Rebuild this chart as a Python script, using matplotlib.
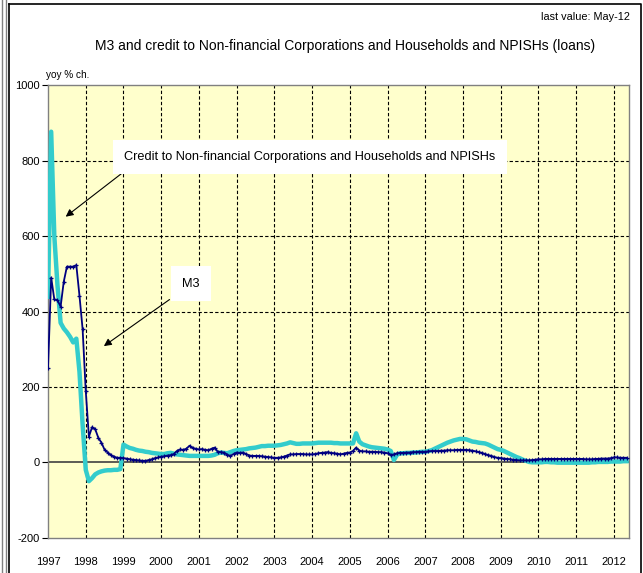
import numpy as np
import matplotlib
matplotlib.use("Agg")
import matplotlib.pyplot as plt
from matplotlib.lines import Line2D

plt.rcParams['font.family'] = ['Liberation Sans', 'DejaVu Sans']
plt.rcParams['axes.unicode_minus'] = False

# monthly data, Jan 1997 - May 2012 (yoy % ch.)
m3 = [251, 490, 432, 430, 413, 479, 519, 519, 519, 523, 442, 353,
      189, 68, 93, 88, 65, 52, 33, 26, 19, 15, 12, 12,
      11, 10, 8, 7, 6, 5, 4, 4, 6, 8, 11, 13,
      15, 16, 18, 19, 22, 30, 34, 33, 36, 44, 38, 36,
      34, 35, 33, 32, 36, 39, 28, 27, 26, 20, 17, 22,
      26, 25, 26, 22, 18, 17, 17, 17, 16, 15, 14, 13,
      12, 12, 13, 15, 18, 21, 21, 22, 22, 22, 21, 21,
      21, 22, 24, 25, 26, 27, 25, 24, 23, 21, 23, 25,
      26, 30, 39, 31, 29, 29, 28, 28, 28, 27, 27, 26,
      24, 19, 21, 24, 25, 25, 26, 26, 27, 27, 28, 28,
      28, 29, 30, 30, 30, 31, 31, 32, 32, 32, 33, 33,
      33, 33, 32, 31, 29, 27, 25, 22, 19, 17, 14, 12,
      11, 10, 9, 8, 7, 6, 5, 5, 5, 5, 6, 7,
      8, 8, 9, 9, 9, 9, 9, 9, 9, 9, 9, 9,
      9, 9, 9, 8, 8, 8, 9, 9, 10, 10, 10, 11,
      13, 13, 12, 12, 12]

credit = [439, 877, 600, 470, 370, 355, 345, 333, 318, 328, 240, 100,
          -20, -50, -42, -32, -27, -24, -22, -21, -21, -20, -20, -18,
          47, 42, 38, 36, 33, 31, 30, 28, 27, 25, 24, 23,
          22, 22, 24, 25, 23, 21, 20, 19, 18, 17, 17, 17,
          17, 17, 17, 17, 18, 20, 24, 26, 25, 24, 27, 30,
          32, 33, 34, 35, 37, 38, 39, 41, 43, 43, 44, 44,
          44, 45, 46, 48, 50, 53, 51, 49, 49, 50, 50, 50,
          50, 51, 52, 52, 52, 52, 52, 51, 51, 50, 50, 50,
          50, 50, 77, 55, 48, 45, 42, 40, 39, 38, 37, 36,
          34, 30, 6, 20, 24, 24, 25, 25, 26, 26, 27, 28,
          28, 30, 32, 36, 40, 44, 48, 52, 55, 58, 60, 62,
          62, 61, 58, 55, 54, 52, 51, 50, 47, 43, 39, 35,
          33, 30, 26, 22, 18, 14, 11, 7, 4, 1, 0, 0,
          0, 0, 1, 1, 0, 0, -1, -1, -1, -1, -1, -1,
          -1, -1, -1, -1, -1, 0, 0, 1, 1, 1, 1, 2,
          2, 2, 2, 3, 3]

years = list(range(1997, 2013))
t = 1997 + np.arange(len(m3)) / 12.0

fig = plt.figure(figsize=(6.43, 5.73), dpi=100)
ax = fig.add_axes([0.0747, 0.0616, 0.9036, 0.7895])
ax.set_facecolor('#FFFFCC')

ax.plot(t, credit, color='#33CCCC', lw=3.2, zorder=3)
ax.plot(t, m3, color='#000080', lw=1.3, marker='+', ms=3, mew=0.9, zorder=4)

ax.set_xlim(1997, 2012.4)
ax.set_ylim(-200, 1000)
ax.set_yticks(range(-200, 1001, 200))
ax.set_xticks(years)
ax.set_xticklabels([str(y) for y in years], fontsize=8)
ax.tick_params(axis='x', length=0, pad=14)
ax.tick_params(axis='y', length=4, direction='out', labelsize=8, pad=2)

for y in years[1:]:
    ax.axvline(y, color='black', lw=0.8, ls=(0, (3, 2)), zorder=1)
for v in [200, 400, 600, 800]:
    ax.axhline(v, color='black', lw=0.8, ls=(0, (3, 2)), zorder=1)
ax.axhline(0, color='#404040', lw=1.2, zorder=2)

for s in ax.spines.values():
    s.set_color('#808080')
    s.set_linewidth(1)

# annotations
ax.text(2003.94, 810, 'Credit to Non-financial Corporations and Households and NPISHs',
        ha='center', va='center', fontsize=9.2, zorder=6,
        bbox=dict(facecolor='white', edgecolor='none', pad=8))
ax.annotate('', xy=(1997.41, 647), xytext=(1999.13, 780),
            arrowprops=dict(arrowstyle='-|>', color='black', lw=0.8, mutation_scale=11), zorder=5)
ax.text(2000.79, 474, 'M3', ha='center', va='center', fontsize=9.2, zorder=6,
        bbox=dict(facecolor='white', edgecolor='none', pad=8))
ax.annotate('', xy=(1998.42, 304), xytext=(2000.28, 436),
            arrowprops=dict(arrowstyle='-|>', color='black', lw=0.8, mutation_scale=11), zorder=5)

fig.text(0.537, 0.92, 'M3 and credit to Non-financial Corporations and Households and NPISHs (loans)',
         ha='center', va='center', fontsize=10)
fig.text(0.98, 0.970, 'last value: May-12', ha='right', va='center', fontsize=7.8)
fig.text(0.071, 0.869, 'yoy % ch.', ha='left', va='center', fontsize=7.2)

# frame
fig.add_artist(Line2D([0.014, 0.997, 0.997], [0.993, 0.993, 0.0], color='black', lw=1.2))
fig.add_artist(Line2D([0.014, 0.014], [0.0, 0.993], color='black', lw=1.2))
fig.add_artist(Line2D([0.003, 0.003], [0.0, 1.0], color='#808080', lw=1))
fig.add_artist(Line2D([0.009, 0.009], [0.0, 1.0], color='#808080', lw=1))

fig.savefig('out.png', dpi=100)
